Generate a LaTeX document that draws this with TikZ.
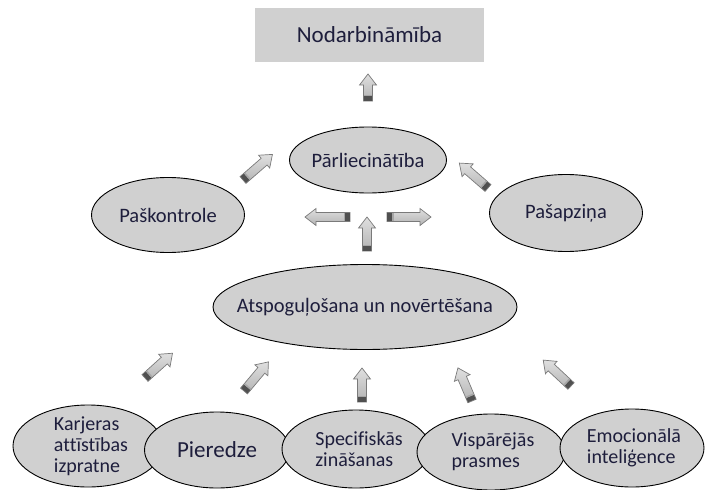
\documentclass[tikz,border=0pt]{standalone}
\usepackage{fontspec}
\setmainfont{Carlito}[Ligatures={NoCommon}, RawFeature={-liga;-clig;-dlig}]
\usetikzlibrary{shapes.geometric}
\definecolor{boxgray}{HTML}{D0D0D0}
\definecolor{ellgray}{HTML}{D0D0D0}
\definecolor{arrline}{HTML}{7A7A7A}
\definecolor{arrdark}{HTML}{505050}
\definecolor{txt}{HTML}{1E1E3C}
\tikzset{
  ell/.style={ellipse, draw=black, line width=0.9pt, fill=ellgray, inner xsep=-25pt, inner ysep=-10pt, text=txt},
  btxt/.style={font=\fontsize{20}{21}\selectfont, align=left},
}
\newcommand{\blockarr}[4]{% tail x,y ; angle ; length
  \begin{scope}[shift={(#1,#2)}, rotate=#3]
    \path[draw=arrline, line width=0.7pt, top color=gray!25, bottom color=gray!60]
      (0,-4.5) -- (#4-11,-4.5) -- (#4-11,-8.5) -- (#4,0) -- (#4-11,8.5) -- (#4-11,4.5) -- (0,4.5) -- cycle;
    \fill[arrdark] (0.4,-4.1) rectangle (5,4.1);
    \fill[gray!70] (5,-4.1) rectangle (6.5,4.1);
  \end{scope}}
\begin{document}
\begin{tikzpicture}[x=1pt, y=-1pt]
\useasboundingbox (0,0) rectangle (705,490);
% top box
\node[fill=boxgray, minimum width=229pt, minimum height=54pt, inner sep=0pt,
      font=\fontsize{23}{26}\selectfont, text=txt] (nod) at (369.5,35) {Nodarbināmība};
% ellipses
\node[ell, minimum width=157pt, minimum height=66pt, font=\fontsize{20.5}{24}\selectfont] (parl) at (368,160) {Pārliecinātība};
\node[ell, minimum width=153pt, minimum height=75pt, font=\fontsize{20.5}{24}\selectfont] (pask) at (168,215) {Paškontrole};
\node[ell, minimum width=153pt, minimum height=77pt, font=\fontsize{20.5}{24}\selectfont] (pasa) at (566,213) {Pašapziņa};
\node[ell, inner xsep=-60pt, minimum width=304pt, minimum height=85pt, font=\fontsize{20.5}{24}\selectfont] (atsp) at (365,307) {Atspoguļošana un novērtēšana};
% bottom row (drawn left to right)
\node[ell, minimum width=150pt, minimum height=82pt, btxt] (karj) at (88,446) {\hspace*{6pt}Karjeras\\\hspace*{6pt}attīstības\\\hspace*{6pt}izpratne};
\node[ell, minimum width=145pt, minimum height=76pt, font=\fontsize{23}{26}\selectfont] (pier) at (217,450) {Pieredze};
\node[ell, minimum width=148pt, minimum height=78pt, btxt] (spec) at (356,449) {\hspace*{6pt}Specifiskās\\\hspace*{6pt}zināšanas};
\node[ell, minimum width=148pt, minimum height=76pt, btxt] (visp) at (491,452) {\hspace*{4pt}Vispārējās\\\hspace*{4pt}prasmes};
\node[ell, minimum width=144pt, minimum height=78pt, btxt] (emoc) at (632,448) {\hspace*{4pt}Emocionālā\\\hspace*{4pt}inteliģence};
% block arrows
\blockarr{368}{101}{90}{27}
\blockarr{243}{180}{41}{39}
\blockarr{488}{188}{139}{38}
\blockarr{350}{217}{180}{45}
\blockarr{387}{217}{0}{44}
\blockarr{367}{251}{90}{34}
\blockarr{145}{378}{42}{37}
\blockarr{244}{391}{50}{38}
\blockarr{362}{402}{90}{34}
\blockarr{472}{401}{113}{36}
\blockarr{571}{386}{137}{38}
\end{tikzpicture}
\end{document}
